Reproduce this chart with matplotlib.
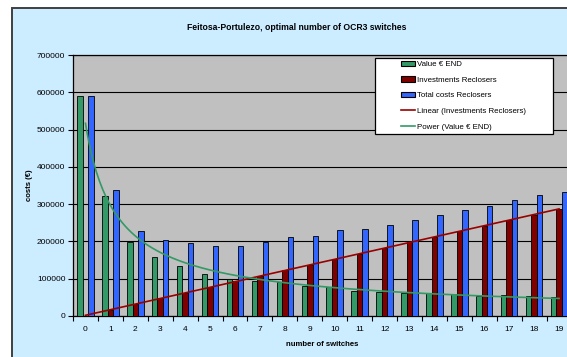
import numpy as np
import matplotlib
matplotlib.use("Agg")
import matplotlib.pyplot as plt
from matplotlib.patches import Rectangle, Patch
from matplotlib.lines import Line2D

plt.rcParams["font.family"] = ["Liberation Sans", "DejaVu Sans"]

# --- data ---
switches = list(range(20))
value_end = [591000, 323000, 198000, 159000, 135000, 113500, 98500, 93000, 91000, 80500,
             78600, 67000, 63500, 61700, 60800, 58200, 54500, 55500, 53600, 50000]
investments = [0, 15300, 31400, 47500, 62600, 78600, 93900, 107300, 123000, 136800,
               152000, 167000, 182400, 197600, 211900, 227000, 242000, 256600, 271700, 287000]
total_costs = [591000, 338000, 228000, 204700, 195000, 188600, 187700, 197600, 211000, 215400,
               229800, 232500, 244000, 257500, 270900, 283500, 294200, 310300, 323700, 333400]

GREEN = "#339966"
DARKRED = "#800000"
BLUE = "#3366FF"
BG = "#CCECFF"

fig = plt.figure(figsize=(5.67, 3.57), dpi=100)
fig.patch.set_facecolor("white")

# chart area frame
fig.patches.append(Rectangle((11.5 / 567, -0.05), 1.2, 1 - 7.5 / 357 + 0.05,
                             transform=fig.transFigure, facecolor=BG,
                             edgecolor="#404040", linewidth=1.4, zorder=-1))

ax = fig.add_axes([73 / 567, 1 - 316 / 357, (571.5 - 73) / 567, (316 - 55) / 357])
ax.set_facecolor("#C0C0C0")

x = np.array(switches)
w = 0.22
ax.bar(x - w, value_end, w, color=GREEN, edgecolor="black", linewidth=0.6, zorder=3)
ax.bar(x, investments, w, color=DARKRED, edgecolor="black", linewidth=0.6, zorder=3)
ax.bar(x + w, total_costs, w, color=BLUE, edgecolor="black", linewidth=0.6, zorder=3)

# trendlines (category index 1..n, like the spreadsheet does)
xn = x + 1
k, b = np.polyfit(xn, investments, 1)
ax.plot(x, k * xn + b, color="#990000", linewidth=1.2, zorder=4)

pb, pa = np.polyfit(np.log(xn), np.log(value_end), 1)
xf = np.linspace(0, 19, 300)
ax.plot(xf, np.exp(pa) * (xf + 1) ** pb, color=GREEN, linewidth=1.2, zorder=4)

ax.set_xlim(-0.5, 19.5)
ax.set_ylim(0, 700000)
ax.set_yticks(range(0, 700001, 100000))
ax.set_yticklabels([str(v) for v in range(0, 700001, 100000)], fontsize=6)
ax.yaxis.grid(True, color="black", linewidth=0.8)
ax.set_axisbelow(True)

ax.set_xticks(x)
ax.set_xticklabels([str(s) for s in switches], fontsize=6)
ax.set_xticks(np.arange(-0.5, 19.6, 1), minor=True)
ax.tick_params(axis="x", which="major", length=0, pad=7)
ax.tick_params(axis="x", which="minor", length=3.5, width=0.8, direction="out")
ax.tick_params(axis="y", length=3.5, width=0.8, pad=2)
for s in ax.spines.values():
    s.set_linewidth(0.9)

ax.set_xlabel("number of switches", fontsize=5.6, fontweight="bold", labelpad=6)
ax.set_ylabel("costs (€)", fontsize=5.6, fontweight="bold", labelpad=3)

fig.text(297 / 567, 1 - 27 / 357, "Feitosa-Portulezo, optimal number of OCR3 switches",
         ha="center", va="center", fontsize=6.2, fontweight="bold")

# legend box
lx0, lx1, ly0, ly1 = 374.5, 552.5, 57.5, 134
fig.patches.append(Rectangle((lx0 / 567, 1 - ly1 / 357), (lx1 - lx0) / 567, (ly1 - ly0) / 357,
                             transform=fig.transFigure, facecolor="white",
                             edgecolor="black", linewidth=0.9, zorder=5))
handles = [
    Patch(facecolor=GREEN, edgecolor="black", linewidth=0.8),
    Patch(facecolor=DARKRED, edgecolor="black", linewidth=0.8),
    Patch(facecolor=BLUE, edgecolor="black", linewidth=0.8),
    Line2D([], [], color="#990000", linewidth=1.2),
    Line2D([], [], color=GREEN, linewidth=1.2),
]
labels = ["Value € END", "Investments Reclosers", "Total costs Reclosers",
          "Linear (Investments Reclosers)", "Power (Value € END)"]
leg = fig.legend(handles, labels, loc="center",
                 bbox_to_anchor=((lx0 + lx1) / 2 / 567, 1 - (ly0 + ly1) / 2 / 357),
                 frameon=False, fontsize=5.7, handlelength=1.8, handleheight=0.6,
                 handletextpad=0.2, labelspacing=1.05, borderpad=0.2)
leg.set_zorder(6)

fig.savefig("out.png", dpi=100)
